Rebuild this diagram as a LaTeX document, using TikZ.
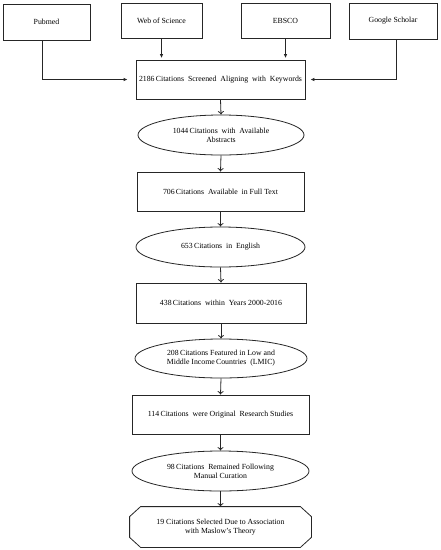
\documentclass[tikz,border=0pt]{standalone}
\usepackage{fontspec}
\setmainfont{Liberation Serif}
\usetikzlibrary{shapes.geometric,arrows.meta,calc}
\begin{document}
\begin{tikzpicture}[x=1pt,y=-1pt,
  every node/.style={font=\fontsize{7.8}{9.2}\selectfont, align=center, inner sep=1pt, draw=black!85, line width=0.8pt},
  srcbox/.style={rectangle},
  stepbox/.style={rectangle},
  stepell/.style={ellipse},
  finalbox/.style={rectangle, draw=none},
  edgeline/.style={draw=black!85, line width=0.8pt, line join=miter},
  srcarrow/.style={edgeline, -{Latex[length=4pt,width=3.5pt]}},
  chainarrow/.style={edgeline, -{To[length=3.5pt,width=6pt]}}
]
\useasboundingbox (0,0) rectangle (440,550);
\fill[white] (0,0) rectangle (440,550);

\node[srcbox, minimum width=87pt, minimum height=36pt] (pub) at (46.5,22) {Pubmed};
\node[srcbox, minimum width=81pt, minimum height=35pt] (wos) at (161.5,20.5) {Web of Science};
\node[srcbox, minimum width=89pt, minimum height=35pt] (ebs) at (285.5,20.5) {EBSCO};
\node[srcbox, minimum width=88pt, minimum height=36pt] (gs) at (393,21) {Google Scholar};

\node[stepbox, minimum width=169pt, minimum height=39pt] (b1) at (220.5,79.5) {2186\,Citations\ \ Screened\ \ Aligning\ \ with\ \ Keywords};
\node[stepell, minimum width=166pt, minimum height=40pt, inner sep=0pt] (e1) at (221,135) {1044\,Citations\ \ with\ \ Available\\Abstracts};
\node[stepbox, minimum width=167pt, minimum height=39pt] (b2) at (220.5,191.5) {706\,Citations\ \ Available\ \ in\ Full\ Text};
\node[stepell, minimum width=169pt, minimum height=40pt, inner sep=0pt] (e2) at (220.5,247) {653\,Citations\ \ in\ \ English};
\node[stepbox, minimum width=170pt, minimum height=40pt] (b3) at (221,303) {438\,Citations\ \ within\ \ Years\ 2000-2016};
\node[stepell, minimum width=172pt, minimum height=39pt, inner sep=0pt] (e3) at (221,358.5) {208\,Citations\ Featured\ in\ Low\ and\\Middle\ Income\,Countries\ \ (LMIC)};
\node[stepbox, minimum width=177pt, minimum height=39pt] (b4) at (220.5,414.5) {114\,Citations\ \ were\ Original\ \ Research\ Studies};
\node[stepell, minimum width=177pt, minimum height=40pt, inner sep=0pt] (e4) at (220.5,471) {98\,Citations\ \ Remained\ Following\\Manual\ Curation};
\node[finalbox, minimum width=181pt, minimum height=40pt] (fin) at (220.5,527) {19\ Citations\ Selected\ Due\ to\ Association\\with\ Maslow's\ Theory};
\draw[edgeline] ($(fin.north west)+(11,0)$) -- ($(fin.north east)+(-11,0)$) -- ($(fin.north east)+(0,10)$) -- ($(fin.south east)+(0,-10)$) -- ($(fin.south east)+(-11,0)$) -- ($(fin.south west)+(11,0)$) -- ($(fin.south west)+(0,-10)$) -- ($(fin.north west)+(0,10)$) -- cycle;

\coordinate (pubc) at ($(pub.south)+(-4.5,0)$);
\coordinate (gsc) at ($(gs.south)+(3,0)$);
\draw[srcarrow, shorten >=8pt] (pubc) |- (b1.west);
\draw[srcarrow, shorten >=5pt] (gsc) |- (b1.east);
\draw[srcarrow, shorten >=1.5pt] (wos.south) -- (wos.south |- b1.north);
\draw[srcarrow, shorten >=1.5pt] (ebs.south) -- (ebs.south |- b1.north);

\draw[chainarrow] (b1.south) -- (e1.north);
\draw[chainarrow] (e1.south) -- (b2.north);
\draw[chainarrow] (b2.south) -- (e2.north);
\draw[chainarrow] (e2.south) -- (b3.north);
\draw[chainarrow] (b3.south) -- (e3.north);
\draw[chainarrow] (e3.south) -- (b4.north);
\draw[chainarrow] (b4.south) -- (e4.north);
\draw[chainarrow] (e4.south) -- (fin.north);
\end{tikzpicture}
\end{document}
